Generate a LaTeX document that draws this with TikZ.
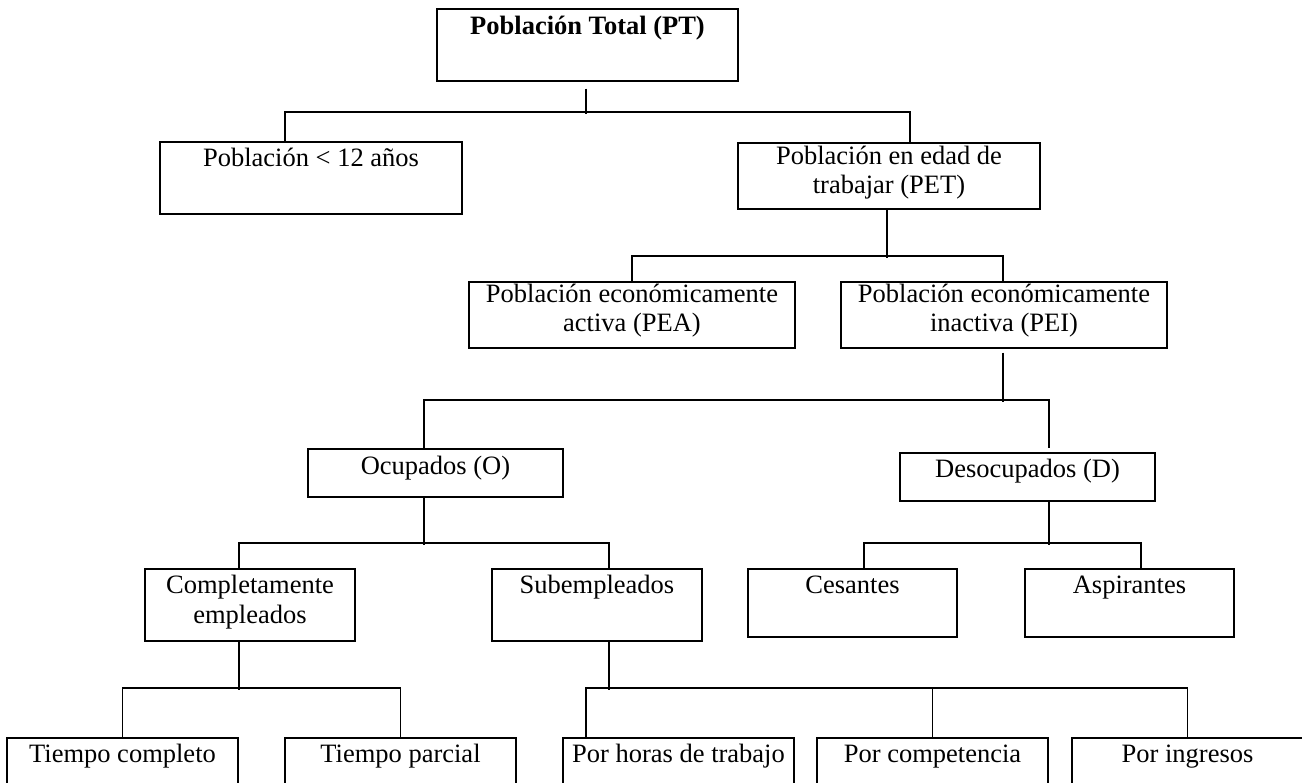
\documentclass[tikz,border=0pt]{standalone}
\usepackage{fontspec}
\setmainfont{Liberation Serif}
\usetikzlibrary{calc}
\tikzset{
  box/.style={draw, line width=1.6pt, rectangle, inner sep=0pt, anchor=north},
  txt/.style={anchor=base, inner sep=0pt, font=\fontsize{26.5}{30}\selectfont},
  conn/.style={line width=1.6pt}
}
\begin{document}
\begin{tikzpicture}[x=1pt, y=-1pt]
\useasboundingbox (0,0) rectangle (1302,783);
\clip (0,0) rectangle (1302,783);
\fill[white] (0,0) rectangle (1302,783);
% boxes
\node[box, minimum width=301pt, minimum height=72pt] (pt) at (587.5,8) {};
\node[box, minimum width=302pt, minimum height=72pt] (lt12) at (311,141) {};
\node[box, minimum width=302pt, minimum height=66pt] (pet) at (889,142) {};
\node[box, minimum width=326pt, minimum height=66pt] (pea) at (632,281) {};
\node[box, minimum width=326pt, minimum height=66pt] (pei) at (1004,281) {};
\node[box, minimum width=255pt, minimum height=48pt] (ocu) at (435.5,448) {};
\node[box, minimum width=255pt, minimum height=48pt] (des) at (1027.5,452) {};
\node[box, minimum width=210pt, minimum height=72pt] (comp) at (250,568) {};
\node[box, minimum width=210pt, minimum height=72pt] (sub) at (597,568) {};
\node[box, minimum width=209pt, minimum height=68pt] (ces) at (852.5,568) {};
\node[box, minimum width=209pt, minimum height=68pt] (asp) at (1129.5,568) {};
\node[box, minimum width=231pt, minimum height=70pt] (tc) at (122.5,737) {};
\node[box, minimum width=231pt, minimum height=70pt] (tp) at (400.5,737) {};
\node[box, minimum width=231pt, minimum height=70pt] (ph) at (678.5,737) {};
\node[box, minimum width=231pt, minimum height=70pt] (pc) at (932.5,737) {};
\node[box, minimum width=231pt, minimum height=70pt] (pi) at (1187.5,737) {};
% texts
\node[txt, font=\fontsize{26.5}{30}\selectfont\bfseries] (ptt) at (587.5,35) {Población Total (PT)};
\node[txt] (lt12t) at (311,167) {Población < 12 años};
\node[txt] (pett1) at (889,165) {Población en edad de};
\node[txt] (pett2) at (889,194) {trabajar (PET)};
\node[txt] (peat1) at (632,303) {Población económicamente};
\node[txt] (peat2) at (632,332) {activa (PEA)};
\node[txt] (peit1) at (1004,303) {Población económicamente};
\node[txt] (peit2) at (1004,332) {inactiva (PEI)};
\node[txt] (ocut) at (435.5,475) {Ocupados (O)};
\node[txt] (dest) at (1027.5,478) {Desocupados (D)};
\node[txt] (compt1) at (250,593) {Completamente};
\node[txt] (compt2) at (250,623) {empleados};
\node[txt] (subt) at (597,593) {Subempleados};
\node[txt] (cest) at (852.5,593) {Cesantes};
\node[txt] (aspt) at (1129.5,593) {Aspirantes};
\node[txt] (tct) at (122.5,762) {Tiempo completo};
\node[txt] (tpt) at (400.5,762) {Tiempo parcial};
\node[txt] (pht) at (678.5,762) {Por horas de trabajo};
\node[txt] (pct) at (932.5,762) {Por competencia};
\node[txt] (pit) at (1187.5,762) {Por ingresos};
% connectors
\draw[conn] ($(pt.south)+(-1.5,7)$) -- ++(0,25);
\draw[conn] ($(lt12.north)+(-26,0)$) |- ($(pet.north)+(21,-30)$) -- ++(0,30);
\draw[conn] ($(pet.south)+(-2,0)$) -- ++(0,48);
\draw[conn] (pea.north) |- ($(pei.north)+(-1,-25)$) -- ++(0,25);
\draw[conn] ($(pei.south)+(-1,4)$) -- ++(0,49);
\draw[conn] ($(ocu.north)+(-11.5,0)$) |- ($(des.north)+(21.5,-52)$) -- ++(0,48);
\draw[conn] ($(ocu.south)+(-11.5,0)$) -- ++(0,47);
\draw[conn] ($(comp.north)+(-11,0)$) |- ($(sub.north)+(12,-25)$) -- ++(0,25);
\draw[conn] ($(des.south)+(21.5,0)$) -- ++(0,43);
\draw[conn] ($(ces.north)+(11.5,0)$) |- ($(asp.north)+(11.5,-25)$) -- ++(0,25);
\draw[conn] ($(comp.south)+(-11,0)$) -- ++(0,48);
\draw[conn] (tc.north) |- ($(tp.north)+(0,-49)$) -- ++(0,49);
\draw[conn] ($(sub.south)+(12,0)$) -- ++(0,48);
\draw[conn] ($(ph.north)+(-92.5,0)$) |- ($(pi.north)+(0,-49)$) -- ++(0,49);
\draw[conn] (pc.north) -- ++(0,-49);
\end{tikzpicture}
\end{document}
